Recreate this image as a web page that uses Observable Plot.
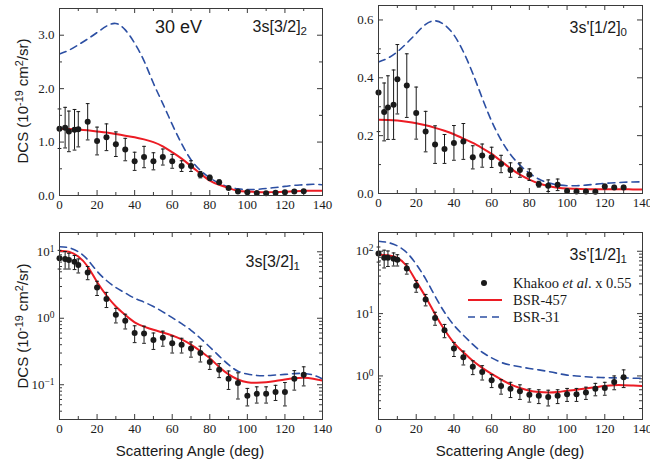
<!DOCTYPE html>
<html><head><meta charset="utf-8">
<script src="https://cdn.jsdelivr.net/npm/d3@7"></script>
<script src="https://cdn.jsdelivr.net/npm/@observablehq/plot@0.6"></script>
<style>
body{margin:0;background:#fff;}
#chart{position:relative;width:650px;height:466px;overflow:hidden;font-family:"Liberation Sans",Arial,sans-serif;color:#1a1a1a;}
.lbl{position:absolute;white-space:nowrap;line-height:1;}
.lbl sub{font-size:0.72em;vertical-align:-0.3em;line-height:0;}
.lbl sup{font-size:0.72em;vertical-align:0.45em;line-height:0;}
.rot{transform:translate(-50%,-50%) rotate(-90deg);}
.ctr{transform:translate(-50%,-50%);}
</style></head><body><div id="chart"></div>
<script>
// ---- data ----
const expAngles = [0,3,5,8,10,15,20,25,30,35,40,45,50,55,60,65,70,75,80,85,90,95,100,105,110,115,120,125,130];
const thAngles  = [0,5,10,15,20,25,30,35,40,45,50,55,60,65,70,75,80,85,90,95,100,105,110,115,120,125,130,135,140];
const xMajor = [0,20,40,60,80,100,120,140];
const xMinor = [10,30,50,70,90,110,130];

// 3s[3/2]2
const exp1 = [1.25,1.27,1.20,1.23,1.24,1.38,1.02,1.09,0.96,0.86,0.64,0.72,0.64,0.72,0.64,0.55,0.55,0.39,0.33,0.25,0.14,0.075,0.06,0.045,0.04,0.05,0.06,0.075,0.08];
const err1 = [0.37,0.38,0.38,0.38,0.33,0.34,0.26,0.25,0.23,0.21,0.17,0.2,0.16,0.15,0.13,0.1,0.1,0.06,0.05,0.04,0.025,0.015,0.012,0.01,0.01,0.01,0.012,0.015,0.015];
const bsr457_1 = [1.25,1.245,1.235,1.22,1.2,1.18,1.15,1.12,1.09,1.05,1.0,0.92,0.81,0.69,0.55,0.41,0.28,0.2,0.14,0.09,0.075,0.065,0.06,0.065,0.07,0.08,0.085,0.09,0.09];
const bsr31_1 = [2.65,2.72,2.82,2.93,3.05,3.17,3.22,3.1,2.85,2.52,2.1,1.72,1.33,0.97,0.67,0.47,0.33,0.23,0.16,0.125,0.11,0.115,0.13,0.15,0.17,0.19,0.2,0.21,0.2];

// 3s'[1/2]0
const exp2 = [0.349,0.282,0.297,0.307,0.395,0.373,0.278,0.214,0.169,0.154,0.175,0.18,0.125,0.131,0.125,0.102,0.081,0.081,0.065,0.032,0.027,0.03,0.009,0.007,0.007,0.006,0.024,0.021,0.021];
const err2 = [0.135,0.1,0.11,0.12,0.12,0.11,0.09,0.07,0.065,0.05,0.06,0.062,0.04,0.04,0.035,0.03,0.025,0.025,0.02,0.01,0.02,0.02,0.005,0.004,0.004,0.004,0.008,0.007,0.007];
const bsr457_2 = [0.255,0.254,0.252,0.248,0.243,0.236,0.227,0.217,0.205,0.19,0.175,0.157,0.137,0.112,0.087,0.065,0.048,0.035,0.026,0.02,0.017,0.016,0.015,0.015,0.015,0.015,0.015,0.014,0.014];
const bsr31_2 = [0.455,0.468,0.49,0.52,0.553,0.585,0.597,0.583,0.548,0.49,0.415,0.33,0.25,0.185,0.135,0.098,0.07,0.05,0.037,0.03,0.027,0.027,0.029,0.032,0.035,0.037,0.039,0.04,0.04];

// 3s[3/2]1
const exp3 = [8.0,7.8,7.5,7.1,6.3,4.9,2.9,1.95,1.13,0.92,0.60,0.59,0.47,0.51,0.42,0.40,0.35,0.30,0.22,0.168,0.123,0.106,0.068,0.073,0.073,0.078,0.078,0.123,0.141];
const err3 = [2.5,2.3,2.0,1.7,1.5,1.1,0.7,0.5,0.28,0.23,0.17,0.17,0.13,0.13,0.12,0.1,0.09,0.08,0.05,0.04,0.038,0.045,0.02,0.02,0.02,0.02,0.03,0.04,0.045];
const bsr457_3 = [10.4,10.0,8.5,6.0,3.5,2.2,1.5,1.12,0.87,0.75,0.67,0.61,0.55,0.48,0.4,0.32,0.25,0.185,0.143,0.12,0.109,0.107,0.109,0.114,0.12,0.125,0.127,0.123,0.115];
const bsr31_3 = [11.9,11.5,10.0,7.6,5.1,3.7,2.9,2.4,2.0,1.75,1.5,1.25,1.02,0.83,0.66,0.5,0.37,0.27,0.2,0.16,0.145,0.138,0.137,0.14,0.143,0.147,0.148,0.14,0.122];

// 3s'[1/2]1
const exp4 = [92,79,79,76,73,53,28,16.8,8.5,5.4,2.75,2.0,1.4,1.16,0.85,0.69,0.62,0.57,0.50,0.48,0.46,0.48,0.51,0.51,0.54,0.62,0.64,0.80,0.95];
const err4 = [25,25,22,18,15,10,6,3.5,2,1.3,0.7,0.5,0.35,0.3,0.2,0.18,0.17,0.15,0.12,0.12,0.13,0.12,0.12,0.12,0.12,0.14,0.15,0.2,0.3];
const bsr457_4 = [88,86,78,58,33,18.5,9.8,5.5,3.4,2.4,1.75,1.35,1.08,0.88,0.73,0.64,0.58,0.55,0.54,0.55,0.58,0.6,0.63,0.66,0.69,0.71,0.71,0.7,0.69];
const bsr31_4 = [145,138,122,95,62,36,19,10.5,6.5,4.5,3.2,2.4,1.95,1.65,1.5,1.4,1.32,1.25,1.18,1.1,1.03,1.0,0.97,0.95,0.94,0.93,0.93,0.92,0.92];

const yMajor1 = [0,1,2,3], yMinor1 = [0.5,1.5,2.5,3.5];
const yMajor2 = [0,0.2,0.4,0.6], yMinor2 = [0.1,0.3,0.5];
const yMajor3 = [0.1,1,10], yMinor3 = [0.03,0.04,0.05,0.06,0.07,0.08,0.09,0.2,0.3,0.4,0.5,0.6,0.7,0.8,0.9,2,3,4,5,6,7,8,9];
const yMajor4 = [1,10,100], yMinor4 = [0.2,0.3,0.4,0.5,0.6,0.7,0.8,0.9,2,3,4,5,6,7,8,9,20,30,40,50,60,70,80,90];

const RED = "#ec1c24", BLUE = "#2c4fa3", INK = "#1a1a1a", FRAME = "#3a3a3a";

const chart = document.getElementById("chart");

function makePanel(c){
  const fw = c.width - c.mL - c.mR, fh = c.height - c.mT - c.mB;
  const pts = expAngles.map((a,i)=>({a, v:c.exp[i], e:c.err[i]}));
  const red = thAngles.map((a,i)=>({a, v:c.red[i]}));
  const blue = thAngles.map((a,i)=>({a, v:c.blue[i]}));
  const isLog = c.yType === "log";
  const svg = Plot.plot({
    width:c.width, height:c.height,
    marginLeft:c.mL, marginRight:c.mR, marginTop:c.mT, marginBottom:c.mB,
    style:{background:"transparent", overflow:"visible", fontFamily:"'Liberation Serif','Times New Roman',serif", fontSize:"13px", color:INK},
    x:{domain:[0,140]},
    y:{type:c.yType, domain:c.yDomain},
    marks:[
      Plot.tickX(xMajor,{x:d=>d, insetTop:fh-5, stroke:FRAME}),
      Plot.tickX(xMajor,{x:d=>d, insetBottom:fh-5, stroke:FRAME}),
      Plot.tickX(xMinor,{x:d=>d, insetTop:fh-3, stroke:FRAME}),
      Plot.tickX(xMinor,{x:d=>d, insetBottom:fh-3, stroke:FRAME}),
      Plot.tickY(c.yMajor,{y:d=>d, insetRight:fw-5, stroke:FRAME}),
      Plot.tickY(c.yMajor,{y:d=>d, insetLeft:fw-5, stroke:FRAME}),
      Plot.tickY(c.yMinor,{y:d=>d, insetRight:fw-3, stroke:FRAME}),
      Plot.tickY(c.yMinor,{y:d=>d, insetLeft:fw-3, stroke:FRAME}),
      Plot.axisX(xMajor,{tickSize:0, tickPadding:4, label:null, fill:INK}),
      Plot.axisY(c.yMajor,{tickSize:0, tickPadding:5, label:null, fill:INK,
        tickFormat: isLog ? (d=>"10^"+Math.round(Math.log10(d))) : (d=>d.toFixed(1))}),
      Plot.line(blue,{x:"a", y:"v", stroke:BLUE, strokeWidth:1.6, strokeDasharray:"7,5", curve:"natural", clip:true}),
      Plot.line(red,{x:"a", y:"v", stroke:RED, strokeWidth:2, curve:"natural", clip:true}),
      Plot.ruleX(pts,{x:"a", y1:d=>d.v-d.e, y2:d=>d.v+d.e, stroke:INK, strokeWidth:1}),
      Plot.link(pts,{x1:d=>d.a-1, x2:d=>d.a+1, y1:d=>d.v+d.e, y2:d=>d.v+d.e, stroke:INK, strokeWidth:1}),
      Plot.link(pts,{x1:d=>d.a-1, x2:d=>d.a+1, y1:d=>d.v-d.e, y2:d=>d.v-d.e, stroke:INK, strokeWidth:1}),
      Plot.dot(pts,{x:"a", y:"v", r:3, fill:INK, stroke:null}),
      Plot.frame({stroke:FRAME, strokeWidth:1})
    ]
  });
  svg.style.position = "absolute";
  svg.style.left = c.left + "px";
  svg.style.top = c.top + "px";
  svg.style.maxWidth = "none";
  if (isLog) {
    svg.querySelectorAll('g[aria-label="y-axis tick label"] text').forEach(t=>{
      const s = t.textContent;
      if (!s.startsWith("10^")) return;
      const ex = s.slice(3);
      t.textContent = "10";
      const ts = document.createElementNS("http://www.w3.org/2000/svg","tspan");
      ts.setAttribute("dy","-0.45em");
      ts.setAttribute("font-size","9.5px");
      ts.textContent = ex.replace("-","\u2212");
      t.appendChild(ts);
    });
  }
  chart.appendChild(svg);
}

makePanel({left:0, top:0, width:330, height:220, mL:59, mR:8, mT:8, mB:25, yType:"linear", yDomain:[0,3.5], yMajor:yMajor1, yMinor:yMinor1, exp:exp1, err:err1, red:bsr457_1, blue:bsr31_1});
makePanel({left:340, top:0, width:310, height:220, mL:38, mR:8, mT:5, mB:27, yType:"linear", yDomain:[0,0.65], yMajor:yMajor2, yMinor:yMinor2, exp:exp2, err:err2, red:bsr457_2, blue:bsr31_2});
makePanel({left:0, top:220, width:330, height:246, mL:59, mR:8, mT:12, mB:47, yType:"log", yDomain:[0.03,19.5], yMajor:yMajor3, yMinor:yMinor3, exp:exp3, err:err3, red:bsr457_3, blue:bsr31_3});
makePanel({left:340, top:220, width:310, height:246, mL:38, mR:8, mT:12, mB:47, yType:"log", yDomain:[0.2,200], yMajor:yMajor4, yMinor:yMinor4, exp:exp4, err:err4, red:bsr457_4, blue:bsr31_4});

// ---- labels ----
function label(html, style, cls){
  const d = document.createElement("div");
  d.className = "lbl" + (cls ? " " + cls : "");
  d.innerHTML = html;
  Object.assign(d.style, style);
  chart.appendChild(d);
}
label("30 eV", {left:"155px", top:"18px", fontSize:"18px"});
label("3s[3/2]<sub>2</sub>", {right:"343px", top:"19px", fontSize:"16px"});
label("3s'[1/2]<sub>0</sub>", {right:"23px", top:"20px", fontSize:"16px"});
label("3s[3/2]<sub>1</sub>", {right:"350px", top:"254px", fontSize:"16px"});
label("3s'[1/2]<sub>1</sub>", {right:"23px", top:"247px", fontSize:"16px"});
label("DCS (10<sup>-19</sup> cm<sup>2</sup>/sr)", {left:"22px", top:"101px", fontSize:"15px"}, "rot");
label("DCS (10<sup>-19</sup> cm<sup>2</sup>/sr)", {left:"22px", top:"326px", fontSize:"15px"}, "rot");
label("Scattering Angle (deg)", {left:"190px", top:"450px", fontSize:"15px"}, "ctr");
label("Scattering Angle (deg)", {left:"510px", top:"450px", fontSize:"15px"}, "ctr");

// ---- legend ----
const NS = "http://www.w3.org/2000/svg";
const leg = document.createElementNS(NS,"svg");
leg.setAttribute("width","180"); leg.setAttribute("height","60");
Object.assign(leg.style,{position:"absolute", left:"460px", top:"272px", overflow:"visible"});
leg.innerHTML = `
<circle cx="24" cy="11" r="3" fill="${INK}"/>
<line x1="8" x2="42" y1="28" y2="28" stroke="${RED}" stroke-width="2"/>
<line x1="8" x2="42" y1="45" y2="45" stroke="${BLUE}" stroke-width="1.6" stroke-dasharray="7,5"/>
<g font-family="'Liberation Serif','Times New Roman',serif" font-size="14.5" fill="${INK}">
<text x="53" y="16">Khakoo <tspan font-style="italic">et al</tspan>. x 0.55</text>
<text x="53" y="33">BSR-457</text>
<text x="53" y="50">BSR-31</text>
</g>`;
chart.appendChild(leg);
</script>
</body></html>
